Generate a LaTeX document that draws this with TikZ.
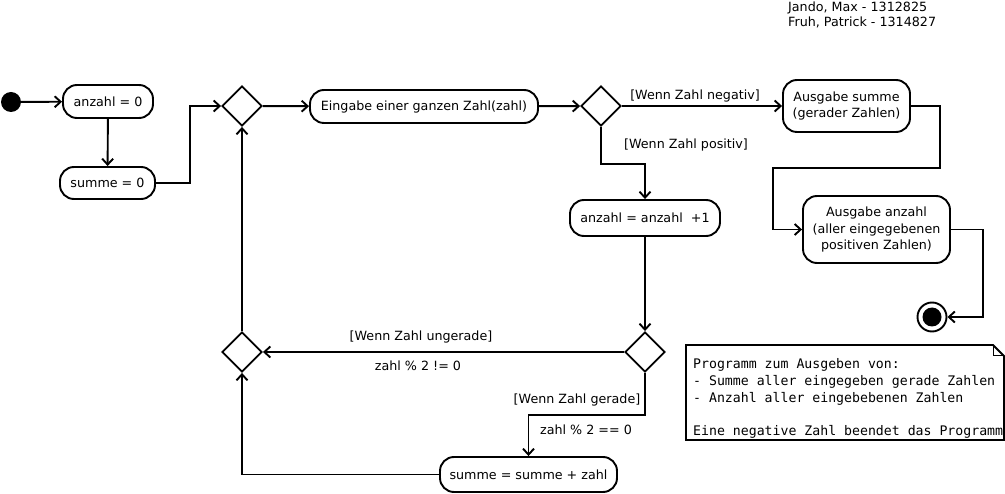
\documentclass[tikz,border=0pt]{standalone}
\usepackage{fontspec}
\setmainfont{DejaVu Sans}
\newfontfamily\notefont{DejaVu Sans Mono}
\usetikzlibrary{shapes.geometric,arrows.meta}
\begin{document}
\begin{tikzpicture}[x=1pt,y=-1pt,
  every node/.style={font=\fontsize{12.7}{16.5}\selectfont},
  act/.style={draw,line width=1.9pt,rounded corners=14pt,align=center,inner sep=0pt},
  dec/.style={draw,diamond,line width=1.9pt,minimum width=40pt,minimum height=40pt,inner sep=0pt},
  flow/.style={line width=1.9pt,-{Straight Barb[length=6pt,width=11pt,line width=1.9pt]}},
  lbl/.style={inner sep=0pt}]
\useasboundingbox (0,0) rectangle (1005,494);
% nodes
\node[circle,fill,minimum size=20pt,inner sep=0pt] (init) at (11,102) {};
\node[act,minimum width=90pt,minimum height=33pt] (a0) at (108,101.5) {anzahl = 0};
\node[act,minimum width=95pt,minimum height=32pt] (s0) at (107.5,183) {summe = 0};
\node[dec] (m1) at (242,106) {};
\node[act,minimum width=228pt,minimum height=33pt] (in) at (424,106.5) {Eingabe einer ganzen Zahl(zahl)};
\node[dec] (d2) at (601,106) {};
\node[act,minimum width=127pt,minimum height=52pt] (outS) at (846.5,106) {Ausgabe summe\\(gerader Zahlen)};
\node[act,minimum width=150pt,minimum height=36pt] (inc) at (645,218) {anzahl = anzahl~~+1};
\node[dec] (d3) at (645,352) {};
\node[dec] (m4) at (242,352) {};
\node[act,minimum width=177pt,minimum height=35pt] (sum) at (528.5,474.5) {summe = summe + zahl};
\node[act,minimum width=147pt,minimum height=67pt] (outA) at (876.5,229.5) {Ausgabe anzahl\\(aller eingegebenen\\positiven Zahlen)};
\node[circle,draw,line width=1.9pt,minimum size=29pt,inner sep=0pt] (fin) at (932,317) {};
\node[circle,fill,minimum size=19pt,inner sep=0pt] (finin) at (fin) {};
% coordinates
\coordinate (j1) at (940,168);
\coordinate (j2) at (773,168);
% labels
\node[lbl] (lneg) at (695,96) {[Wenn Zahl negativ]};
\node[lbl] (lpos) at (686,145) {[Wenn Zahl positiv]};
\node[lbl] (lung) at (421,337) {[Wenn Zahl ungerade]};
\node[lbl] (lneq) at (418,366) {zahl \% 2 != 0};
\node[lbl] (lger) at (577,400) {[Wenn Zahl gerade]};
\node[lbl] (leq) at (586,430) {zahl \% 2 == 0};
\node[lbl,anchor=base west] (auth1) at (788,11.5) {Jando, Max - 1312825};
\node[lbl,anchor=base west] (auth2) at (788,26.5) {Fruh, Patrick - 1314827};
% connectors
\draw[flow] (init) -- (a0);
\draw[flow] (a0) -- (s0);
\draw[flow] (s0.east) -- ++(34,0) |- (m1.west);
\draw[flow] (m1) -- (in);
\draw[flow] (in) -- (d2);
\draw[flow] (d2) -- (outS);
\draw[flow] (d2.south) -- ++(0,37) -| (inc.north);
\draw[flow] (inc.south) -- (d3.north);
\draw[flow] (d3) -- (m4);
\draw[flow] (m4) -- (m1);
\draw[flow] (d3.south) -- ++(0,42) -| (sum.north);
\draw[flow] (sum.west) -| (m4.south);
\draw[flow] (outS.east) -| (j1) -- (j2) |- (outA.west);
\draw[flow] (outA.east) -- ++(32,0) |- (fin.east);
% note
\draw[line width=1.8pt] (686,345) -- (993,345) -- (1004,356) -- (1004,440) -- (686,440) -- cycle;
\draw[line width=1pt] (993,345) -- (993,356) -- (1004,356);
\node[lbl,anchor=north west,align=left,font=\notefont\fontsize{13.2}{16.75}\selectfont] (note) at (693,358.5)
  {Programm zum Ausgeben von:\\- Summe aller eingegeben gerade Zahlen\\- Anzahl aller eingebebenen Zahlen\\\strut\\Eine negative Zahl beendet das Programm};
\end{tikzpicture}
\end{document}
